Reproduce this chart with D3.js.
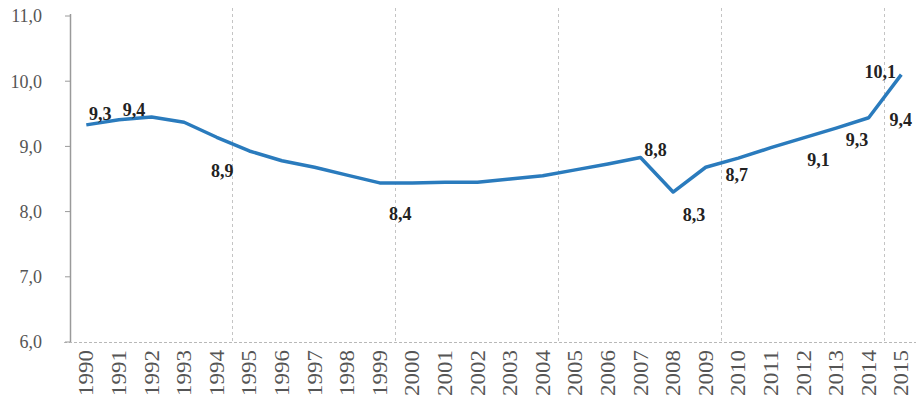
<!DOCTYPE html>
<html>
<head>
<meta charset="utf-8">
<script src="https://cdn.jsdelivr.net/npm/d3@7"></script>
<style>
    body { margin: 0; background: #fff; }
    .tick-label { font-family: "Liberation Serif", "DejaVu Serif", serif; fill: #555; }
    .value-label { font-family: "Liberation Serif", "DejaVu Serif", serif; font-weight: bold; fill: #222; }
</style>
</head>
<body>
<script>
// chart data
const years = ["1990", "1991", "1992", "1993", "1994", "1995", "1996", "1997", "1998", "1999",
               "2000", "2001", "2002", "2003", "2004", "2005", "2006", "2007", "2008", "2009",
               "2010", "2011", "2012", "2013", "2014", "2015"];
const values = [9.33, 9.41, 9.45, 9.37, 9.14, 8.93, 8.78, 8.68, 8.56, 8.44,
                8.44, 8.45, 8.45, 8.5, 8.55, 8.64, 8.73, 8.83, 8.3, 8.68,
                8.82, 8.98, 9.13, 9.28, 9.44, 10.1];
const yTicks = [6, 7, 8, 9, 10, 11];
// years that carry a value label
const labelYears = ["1990", "1991", "1995", "2000", "2007", "2008", "2009", "2012", "2013", "2014", "2015"];

// where each label sits relative to its point (placed by hand in the original)
const labelOffsets = {
    "1990": [14, -11], "1991": [15, -10], "1995": [-27, 20], "2000": [-12, 31],
    "2007": [15, -8], "2008": [21, 23], "2009": [31, 7], "2012": [15, 22],
    "2013": [21, 12], "2014": [32, 2], "2015": [-21, -3]
};

const width = 916, height = 405;
const margin = { left: 70, top: 16, bottom: 342 };
const band = 32.6;

const svg = d3.select("body").append("svg")
    .attr("width", width)
    .attr("height", height);

const xScale = d3.scaleBand()
    .domain(years)
    .range([margin.left, margin.left + band * years.length])
    .padding(0);

const yScale = d3.scaleLinear()
    .domain([6, 11])
    .range([margin.bottom, margin.top]);

const cx = d => xScale(d) + xScale.bandwidth() / 2;
const fmt = v => d3.format(".1f")(v).replace(".", ",");

// vertical dashed grid lines every 5 years
const gridYears = years.filter((d, i) => i > 0 && i % 5 === 0);
svg.selectAll(".grid")
    .data(gridYears)
    .enter().append("line")
    .attr("class", "grid")
    .attr("x1", d => xScale(d) - 0.5)
    .attr("x2", d => xScale(d) - 0.5)
    .attr("y1", 8)
    .attr("y2", margin.bottom)
    .attr("stroke", "#c4c4c4")
    .attr("stroke-dasharray", "3,3");

// bottom axis (dashed)
svg.append("line")
    .attr("x1", margin.left - 6)
    .attr("x2", width)
    .attr("y1", margin.bottom + 0.5)
    .attr("y2", margin.bottom + 0.5)
    .attr("stroke", "#b8b8b8")
    .attr("stroke-dasharray", "3,2");

// y axis
svg.append("line")
    .attr("x1", margin.left + 0.5).attr("x2", margin.left + 0.5)
    .attr("y1", margin.top - 2).attr("y2", margin.bottom)
    .attr("stroke", "#9a9a9a")
    .attr("stroke-width", 1.5);

svg.selectAll(".ytick")
    .data(yTicks)
    .enter().append("line")
    .attr("class", "ytick")
    .attr("x1", margin.left - 5).attr("x2", margin.left)
    .attr("y1", d => yScale(d)).attr("y2", d => yScale(d))
    .attr("stroke", "#9a9a9a");

svg.selectAll(".ylabel")
    .data(yTicks)
    .enter().append("text")
    .attr("class", "tick-label")
    .attr("x", 42)
    .attr("y", d => yScale(d))
    .attr("dy", "0.35em")
    .attr("text-anchor", "end")
    .style("font-size", "18px")
    .text(d => fmt(d));

// x labels, rotated
svg.selectAll(".xlabel")
    .data(years)
    .enter().append("text")
    .attr("class", "tick-label")
    .attr("transform", d => "translate(" + cx(d) + "," + (margin.bottom + 8) + ") rotate(-90)")
    .attr("dy", "0.35em")
    .attr("text-anchor", "end")
    .style("font-size", "20px")
    .attr("textLength", 46)
    .attr("lengthAdjust", "spacingAndGlyphs")
    .text(d => d);

// the line
const line = d3.line()
    .x((d, i) => cx(years[i]))
    .y(d => yScale(d));

svg.append("path")
    .datum(values)
    .attr("fill", "none")
    .attr("stroke", "#2a7bbd")
    .attr("stroke-width", 3.5)
    .attr("stroke-linejoin", "round")
    .attr("d", line);

// value labels
svg.selectAll(".value-label")
    .data(labelYears)
    .enter().append("text")
    .attr("class", "value-label")
    .attr("x", d => cx(d) + labelOffsets[d][0])
    .attr("y", d => yScale(values[years.indexOf(d)]) + labelOffsets[d][1])
    .attr("dy", "0.35em")
    .attr("text-anchor", "middle")
    .style("font-size", "18px")
    .text(d => fmt(values[years.indexOf(d)]));
</script>
</body>
</html>
